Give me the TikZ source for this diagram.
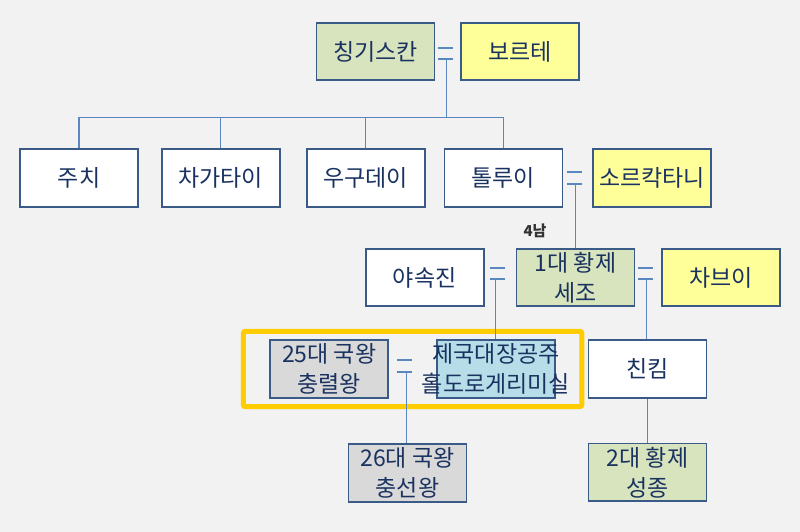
\documentclass[tikz,border=0pt]{standalone}
\usepackage{fontspec}
\setmainfont{Noto Sans CJK KR}
\usetikzlibrary{positioning,calc,fit}

\definecolor{bgcol}{HTML}{F2F2F2}
\definecolor{boxline}{HTML}{3A5A88}
\definecolor{txtcol}{HTML}{1A3260}
\definecolor{linkcol}{HTML}{5B87C1}
\definecolor{greenfill}{HTML}{D7E4BD}
\definecolor{yellowfill}{HTML}{FFFF99}
\definecolor{greyfill}{HTML}{D9D9D9}
\definecolor{bluefill}{HTML}{B7DEE8}
\definecolor{hilitecol}{HTML}{FFCC00}

\begin{document}
\begin{tikzpicture}[
  fam/.style={draw=boxline, line width=1.8pt, fill=white, minimum width=118pt,
              minimum height=57.5pt, inner sep=1pt, align=center, text=txtcol,
              font=\fontsize{23}{30}\selectfont},
  note/.style={font=\fontsize{15}{17}\selectfont\bfseries, text=black!80},
  link/.style={draw=linkcol, line width=1.2pt},
  hilite/.style={draw=hilitecol, line width=5pt, rounded corners=2pt}
]
\fill[bgcol] (0,0) rectangle (800pt,-532pt);

% generation 1
\node[fam, fill=greenfill] (genghis) at (375.5pt,-51.5pt) {칭기스칸};
\node[fam, fill=yellowfill, right=25pt of genghis] (borte) {보르테};

% generation 2
\node[fam] (jochi) at (79pt,-178pt) {주치};
\node[fam, right=22pt of jochi] (chagatai) {차가타이};
\node[fam, right=25pt of chagatai] (ogedei) {우구데이};
\node[fam, right=18pt of ogedei] (tolui) {톨루이};
\node[fam, fill=yellowfill, right=29pt of tolui] (sorghaghtani) {소르칵타니};

% generation 3
\node[fam, fill=greenfill] (sejo) at (575.5pt,-277.5pt) {1대 황제\\세조};
\node[fam, left=31pt of sejo] (yasokjin) {야속진};
\node[fam, fill=yellowfill, right=26pt of sejo] (chabui) {차브이};
\node[note] (fourth) at (535pt,-231pt) {4남};

% generation 4
\node[fam, fill=bluefill] (jeguk) at (496pt,-369pt)
  {\makebox[0pt]{제국대장공주}\\\makebox[0pt]{홀도로게리미실}};
\node[fam, fill=greyfill, left=47pt of jeguk] (chungryeol) {25대 국왕\\충렬왕};
\node[fam] (chinkim) at (647.5pt,-369pt) {친킴};
\node[hilite, fit=(chungryeol)(jeguk), inner xsep=26pt, inner ysep=8pt] (goryeo) {};

% generation 5
\node[fam, fill=greyfill] (chungseon) at (407.5pt,-473pt) {26대 국왕\\충선왕};
\node[fam, fill=greenfill, below=44pt of chinkim] (seongjong) {2대 황제\\성종};

% marriages
\draw[link] ($(genghis.east)+(3pt,3.5pt)$) -- +(15pt,0);
\draw[link] ($(genghis.east)+(3pt,-7.5pt)$) -- +(15pt,0);
\coordinate (w1) at ($(genghis.east)+(11pt,-7.5pt)$);
\draw[link] ($(tolui.east)+(4pt,6pt)$) -- +(15pt,0);
\draw[link] ($(tolui.east)+(4pt,-6pt)$) -- +(15pt,0);
\coordinate (w2) at ($(tolui.east)+(12pt,-6pt)$);
\draw[link] ($(yasokjin.east)+(5pt,9.5pt)$) -- +(15pt,0);
\draw[link] ($(yasokjin.east)+(5pt,-1.5pt)$) -- +(15pt,0);
\coordinate (w3) at ($(yasokjin.east)+(11pt,-1.5pt)$);
\draw[link] ($(sejo.east)+(3pt,9.5pt)$) -- +(15pt,0);
\draw[link] ($(sejo.east)+(3pt,-1.5pt)$) -- +(15pt,0);
\coordinate (w4) at ($(sejo.east)+(11pt,-1.5pt)$);
\draw[link] ($(chungryeol.east)+(8pt,9pt)$) -- +(15pt,0);
\draw[link] ($(chungryeol.east)+(8pt,-3pt)$) -- +(15pt,0);
\coordinate (w5) at ($(chungryeol.east)+(17pt,-3pt)$);

% descent
\coordinate (bus) at ($(jochi.north)+(0,31pt)$);
\draw[link] (w1) -- (w1 |- bus);
\draw[link] (jochi.north) |- (bus -| tolui.north) -- (tolui.north);
\draw[link] (chagatai.north) -- (chagatai.north |- bus);
\draw[link] (ogedei.north) -- (ogedei.north |- bus);
\draw[link] (w2) -- (w2 |- sejo.north);
\draw[link] (w3) -- (w3 |- jeguk.north);
\draw[link] (w4) -- (w4 |- chinkim.north);
\draw[link] (w5) -- (w5 |- chungseon.north);
\draw[link] (chinkim.south) -- (seongjong.north);
\end{tikzpicture}
\end{document}
